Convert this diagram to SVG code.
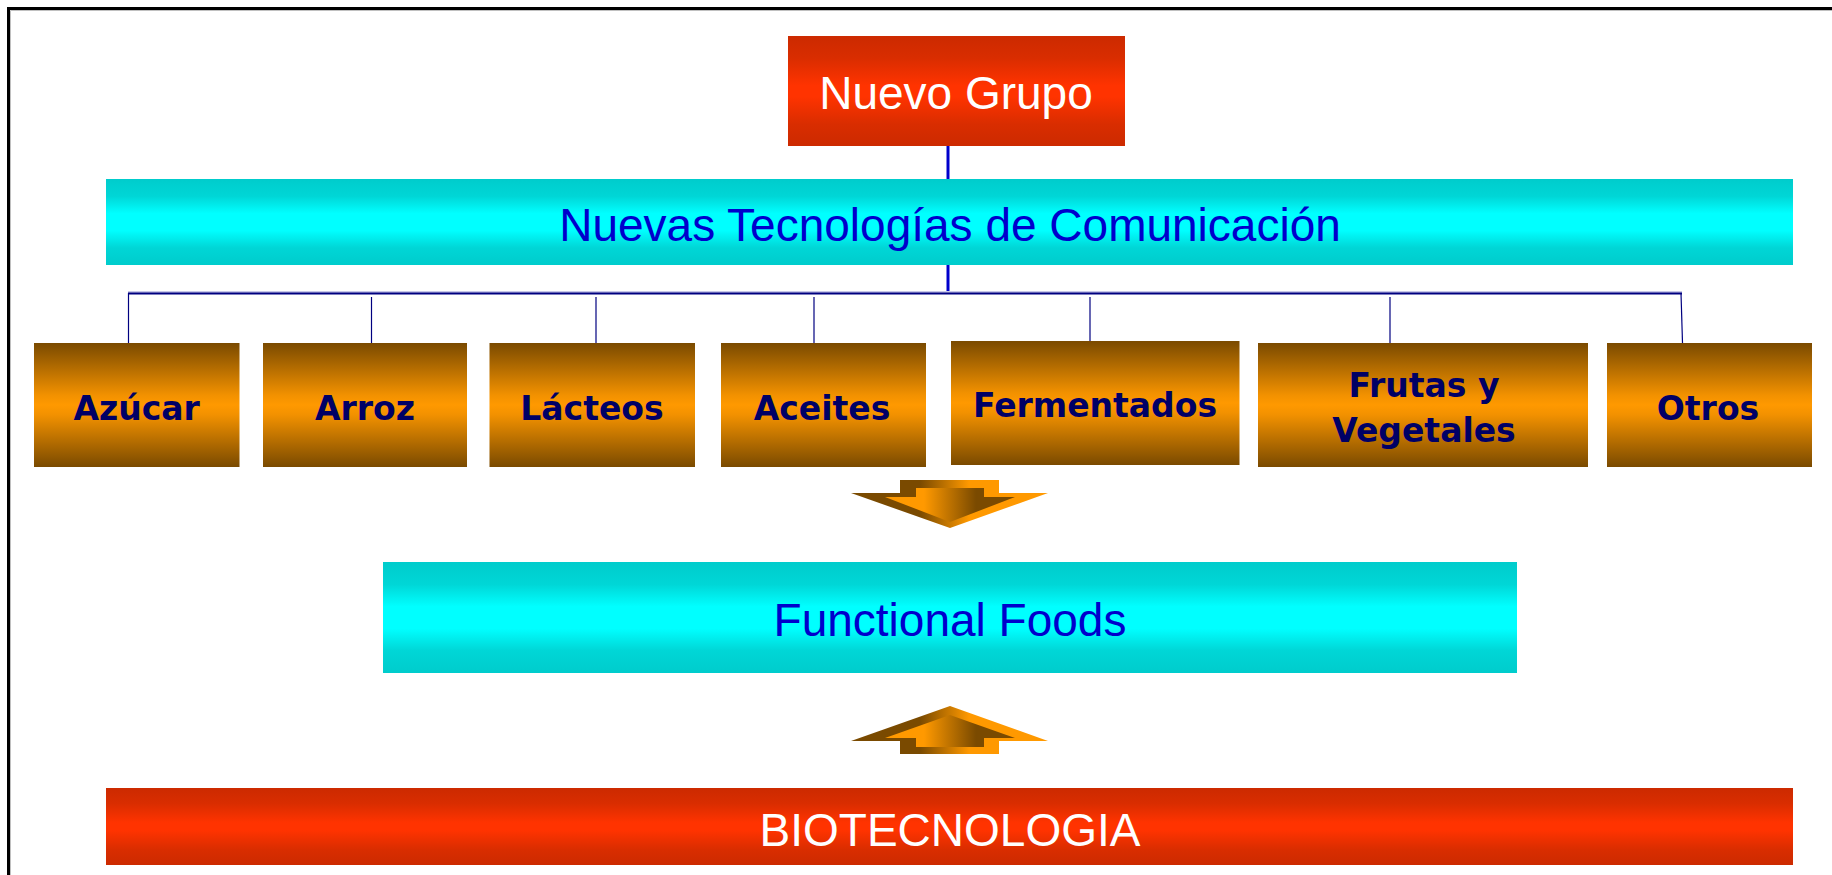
<svg xmlns="http://www.w3.org/2000/svg" width="1832" height="875" viewBox="0 0 1832 875">
  <defs>
    <linearGradient id="gRed" x1="0" y1="0" x2="0" y2="1">
      <stop offset="0" stop-color="#CC2A00"/>
      <stop offset="0.2" stop-color="#D92D00"/>
      <stop offset="0.45" stop-color="#FF3300"/>
      <stop offset="0.55" stop-color="#FF3300"/>
      <stop offset="0.8" stop-color="#D92D00"/>
      <stop offset="1" stop-color="#CC2A00"/>
    </linearGradient>
    <linearGradient id="gCyan" x1="0" y1="0" x2="0" y2="1">
      <stop offset="0" stop-color="#00CCCC"/>
      <stop offset="0.2" stop-color="#00D6D6"/>
      <stop offset="0.4" stop-color="#00FFFF"/>
      <stop offset="0.6" stop-color="#00FFFF"/>
      <stop offset="0.8" stop-color="#00D6D6"/>
      <stop offset="1" stop-color="#00CCCC"/>
    </linearGradient>
    <linearGradient id="gOrange" x1="0" y1="0" x2="0" y2="1">
      <stop offset="0" stop-color="#7A4A00"/>
      <stop offset="0.42" stop-color="#F29100"/>
      <stop offset="0.5" stop-color="#FF9900"/>
      <stop offset="0.58" stop-color="#F29100"/>
      <stop offset="1" stop-color="#7A4A00"/>
    </linearGradient>
    <linearGradient id="gArrOut" x1="0" y1="0" x2="1" y2="0">
      <stop offset="0" stop-color="#7A4A00"/>
      <stop offset="0.35" stop-color="#7A4A00"/>
      <stop offset="0.6" stop-color="#FF9900"/>
      <stop offset="1" stop-color="#FF9900"/>
    </linearGradient>
    <linearGradient id="gArrIn" x1="0" y1="0" x2="1" y2="0">
      <stop offset="0" stop-color="#FF9900"/>
      <stop offset="0.3" stop-color="#FF9900"/>
      <stop offset="0.7" stop-color="#7A4A00"/>
      <stop offset="1" stop-color="#7A4A00"/>
    </linearGradient>
  </defs>
  <style>
    .big { font-family: "Liberation Sans", Arial, sans-serif; font-size: 46px; text-anchor: middle; }
    .white { fill: #FFFFFF; }
    .blue { fill: #0000CC; }
    .cat { font-family: "DejaVu Sans", Verdana, sans-serif; font-weight: bold; font-size: 33px; fill: #000066; text-anchor: middle; }
    .catbox { fill: url(#gOrange); }
    .thick { stroke: #0000CC; stroke-width: 3; fill: none; }
    .thin { stroke: #000080; stroke-width: 1.2; fill: none; }
  </style>

  <rect width="1832" height="875" fill="#FFFFFF"/>
  <!-- frame -->
  <g id="frame">
    <path d="M10.5 875 V10.5 H1832" stroke="#C0C0C0" stroke-width="1" fill="none"/>
    <path d="M8.5 875 V8.5 H1832" stroke="#000000" stroke-width="3" fill="none"/>
  </g>

  <g id="connectors">
    <line class="thick" x1="948" y1="146" x2="948" y2="179"/>
    <line class="thick" x1="948" y1="265" x2="948" y2="294"/>
    <line x1="128" y1="292" x2="1682" y2="292" stroke="#C8C8E8" stroke-width="2"/>
    <line x1="128" y1="293.5" x2="1682" y2="293.5" stroke="#000080" stroke-width="1.8"/>
    <line class="thin" x1="128.5" y1="293" x2="128.5" y2="343"/>
    <line class="thin" x1="371.5" y1="297" x2="371.5" y2="343"/>
    <line class="thin" x1="596" y1="297" x2="596" y2="343"/>
    <line class="thin" x1="814" y1="297" x2="814" y2="343"/>
    <line class="thin" x1="1090" y1="297" x2="1090" y2="341"/>
    <line class="thin" x1="1390" y1="297" x2="1390" y2="343"/>
    <line class="thin" x1="1681" y1="293" x2="1682.5" y2="343"/>
  </g>

  <g id="nuevo-grupo">
    <rect x="788" y="36" width="337" height="110" fill="url(#gRed)"/>
    <text class="big white" x="956" y="109">Nuevo Grupo</text>
  </g>

  <g id="nuevas-tecnologias">
    <rect x="106" y="179" width="1687" height="86" fill="url(#gCyan)"/>
    <text class="big blue" x="950" y="241">Nuevas Tecnologías de Comunicación</text>
  </g>

  <g id="azucar">
    <rect class="catbox" x="34" y="343" width="205.5" height="124"/>
    <text class="cat" x="136.7" y="420">Azúcar</text>
  </g>
  <g id="arroz">
    <rect class="catbox" x="263" y="343" width="204" height="124"/>
    <text class="cat" x="365" y="420">Arroz</text>
  </g>
  <g id="lacteos">
    <rect class="catbox" x="489.5" y="343" width="205.5" height="124"/>
    <text class="cat" x="592" y="420">Lácteos</text>
  </g>
  <g id="aceites">
    <rect class="catbox" x="721" y="343" width="205" height="124"/>
    <text class="cat" x="822" y="420">Aceites</text>
  </g>
  <g id="fermentados">
    <rect class="catbox" x="951" y="341" width="288.5" height="124"/>
    <text class="cat" x="1095" y="417">Fermentados</text>
  </g>
  <g id="frutas-vegetales">
    <rect class="catbox" x="1258" y="343" width="330" height="124"/>
    <text class="cat" x="1424" y="397">Frutas y</text>
    <text class="cat" x="1424" y="442">Vegetales</text>
  </g>
  <g id="otros">
    <rect class="catbox" x="1607" y="343" width="205" height="124"/>
    <text class="cat" x="1708" y="420">Otros</text>
  </g>

  <g id="arrow-down">
    <polygon points="900,480 999,480 999,493 1048,493 950,528 851,493 900,493" fill="url(#gArrOut)"/>
    <polygon points="916,488 984,488 984,497 1015,497 950,522 885,497 916,497" fill="url(#gArrIn)"/>
  </g>

  <g id="functional-foods">
    <rect x="383" y="562" width="1134" height="111" fill="url(#gCyan)"/>
    <text class="big blue" x="950" y="636">Functional Foods</text>
  </g>

  <g id="arrow-up">
    <polygon points="950,706 1048,741 999,741 999,754 900,754 900,741 851,741" fill="url(#gArrOut)"/>
    <polygon points="950,715 1015,738 984,738 984,747 916,747 916,738 885,738" fill="url(#gArrIn)"/>
  </g>

  <g id="biotecnologia">
    <rect x="106" y="788" width="1687" height="77" fill="url(#gRed)"/>
    <text class="big white" x="950" y="846" font-size="44">BIOTECNOLOGIA</text>
  </g>
</svg>
